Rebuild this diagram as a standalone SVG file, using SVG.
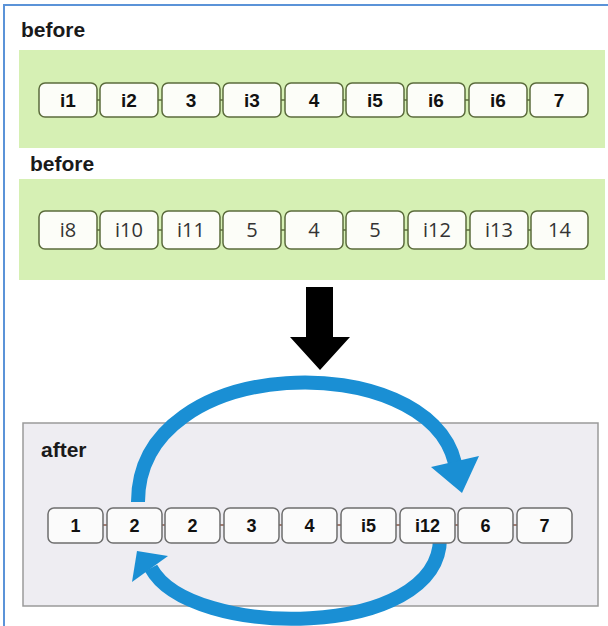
<svg xmlns="http://www.w3.org/2000/svg" width="608" height="626" viewBox="0 0 608 626">
  <defs>
    <style>
      .frame { fill: none; stroke: #5b93d8; stroke-width: 2; }
      .panel { fill: #d6f0b4; }
      .after-panel { fill: #eeedf2; stroke: #9a9a9a; stroke-width: 1.5; }
      .title { font-family: "Liberation Sans", Arial, sans-serif; font-weight: bold; font-size: 21px; fill: #1a1a1a; }
      .b1 { fill: #fcfdf8; stroke: #5b6b3c; stroke-width: 1.5; }
      .b2 { fill: #fcfdf8; stroke: #5b6b3c; stroke-width: 1.5; }
      .b3 { fill: #fbfbfb; stroke: #6e6e6e; stroke-width: 1.5; }
      .t1 { font-family: "Liberation Sans", Arial, sans-serif; font-weight: bold; font-size: 19px; fill: #111; text-anchor: middle; }
      .t2 { font-family: "Open Sans", "Liberation Sans", sans-serif; font-size: 20px; fill: #333; text-anchor: middle; }
      .t3 { font-family: "Liberation Sans", Arial, sans-serif; font-weight: bold; font-size: 18px; fill: #111; text-anchor: middle; }
      .tick1 { stroke: #5b6b3c; stroke-width: 1.5; }
      .tick3 { stroke: #8a5a4a; stroke-width: 1.5; }
      .loop { fill: none; stroke: #1a8fd4; stroke-width: 14; }
      .loop-head { fill: #1a8fd4; }
      .down { fill: #000; }
    </style>
  </defs>

  <rect width="608" height="626" fill="#ffffff"/>
  <!-- outer frame (left and top edges visible) -->
  <path class="frame" d="M4 630 V5 H608"/>

  <!-- panels -->
  <g id="panel-before-1">
    <text class="title" x="21" y="37">before</text>
    <rect class="panel" x="19" y="50" width="586" height="98"/>
  </g>
  <g id="panel-before-2">
    <text class="title" x="30" y="171">before</text>
    <rect class="panel" x="19" y="179" width="586" height="101"/>
  </g>
  <g id="panel-after">
    <rect class="after-panel" x="23" y="423" width="575" height="183"/>
    <text class="title" x="41" y="457">after</text>
  </g>

  <!-- connectors -->
  <g id="connectors">
    <!-- links between neighbouring cells -->
    <g class="tick1">
      <line x1="97" y1="100" x2="100" y2="100"/>
      <line x1="158" y1="100" x2="162" y2="100"/>
      <line x1="220" y1="100" x2="223" y2="100"/>
      <line x1="281" y1="100" x2="285" y2="100"/>
      <line x1="343" y1="100" x2="346" y2="100"/>
      <line x1="404" y1="100" x2="407" y2="100"/>
      <line x1="465" y1="100" x2="469" y2="100"/>
      <line x1="527" y1="100" x2="530" y2="100"/>

      <line x1="97" y1="230" x2="100" y2="230"/>
      <line x1="158" y1="230" x2="162" y2="230"/>
      <line x1="220" y1="230" x2="223" y2="230"/>
      <line x1="281" y1="230" x2="285" y2="230"/>
      <line x1="343" y1="230" x2="346" y2="230"/>
      <line x1="404" y1="230" x2="408" y2="230"/>
      <line x1="466" y1="230" x2="470" y2="230"/>
      <line x1="528" y1="230" x2="531" y2="230"/>
    </g>
    <g class="tick3">
      <line x1="103" y1="525" x2="107" y2="525"/>
      <line x1="162" y1="525" x2="165" y2="525"/>
      <line x1="220" y1="525" x2="224" y2="525"/>
      <line x1="279" y1="525" x2="282" y2="525"/>
      <line x1="337" y1="525" x2="341" y2="525"/>
      <line x1="396" y1="525" x2="400" y2="525"/>
      <line x1="455" y1="525" x2="458" y2="525"/>
      <line x1="513" y1="525" x2="517" y2="525"/>
    </g>

    <!-- transition arrow -->
    <polygon class="down" points="306,287 333,287 333,337 350,337 320,370 290,337 306,337"/>

    <!-- upper loop: from cell 2 over the row into cell 6 -->
    <path class="loop" d="M138 502 C138 352 428 348 455 463"/>
    <polygon class="loop-head" points="431,467 479,456 462,493"/>

    <!-- lower loop: from cell i12 under the row back to cell 2 -->
    <path class="loop" d="M440 538 C440 640 190 640 151 568"/>
    <polygon class="loop-head" points="137,551 168,556 132,582"/>
  </g>

  <!-- row 1 -->
  <g id="n-i1"><rect class="b1" x="39" y="83" width="58" height="34" rx="6"/><text class="t1" x="68" y="107">i1</text></g>
  <g id="n-i2"><rect class="b1" x="100" y="83" width="58" height="34" rx="6"/><text class="t1" x="129" y="107">i2</text></g>
  <g id="n-3a"><rect class="b1" x="162" y="83" width="58" height="34" rx="6"/><text class="t1" x="191" y="107">3</text></g>
  <g id="n-i3"><rect class="b1" x="223" y="83" width="58" height="34" rx="6"/><text class="t1" x="252" y="107">i3</text></g>
  <g id="n-4a"><rect class="b1" x="285" y="83" width="58" height="34" rx="6"/><text class="t1" x="314" y="107">4</text></g>
  <g id="n-i5a"><rect class="b1" x="346" y="83" width="58" height="34" rx="6"/><text class="t1" x="375" y="107">i5</text></g>
  <g id="n-i6a"><rect class="b1" x="407" y="83" width="58" height="34" rx="6"/><text class="t1" x="436" y="107">i6</text></g>
  <g id="n-i6b"><rect class="b1" x="469" y="83" width="58" height="34" rx="6"/><text class="t1" x="498" y="107">i6</text></g>
  <g id="n-7a"><rect class="b1" x="530" y="83" width="58" height="34" rx="6"/><text class="t1" x="559" y="107">7</text></g>

  <!-- row 2 -->
  <g id="n-i8"><rect class="b2" x="39" y="211" width="58" height="38" rx="6"/><text class="t2" x="68" y="237">i8</text></g>
  <g id="n-i10"><rect class="b2" x="100" y="211" width="58" height="38" rx="6"/><text class="t2" x="129" y="237">i10</text></g>
  <g id="n-i11"><rect class="b2" x="162" y="211" width="58" height="38" rx="6"/><text class="t2" x="191" y="237">i11</text></g>
  <g id="n-5a"><rect class="b2" x="223" y="211" width="58" height="38" rx="6"/><text class="t2" x="252" y="237">5</text></g>
  <g id="n-4b"><rect class="b2" x="285" y="211" width="58" height="38" rx="6"/><text class="t2" x="314" y="237">4</text></g>
  <g id="n-5b"><rect class="b2" x="346" y="211" width="58" height="38" rx="6"/><text class="t2" x="375" y="237">5</text></g>
  <g id="n-i12a"><rect class="b2" x="408" y="211" width="58" height="38" rx="6"/><text class="t2" x="437" y="237">i12</text></g>
  <g id="n-i13"><rect class="b2" x="470" y="211" width="58" height="38" rx="6"/><text class="t2" x="499" y="237">i13</text></g>
  <g id="n-14"><rect class="b2" x="531" y="211" width="57" height="38" rx="6"/><text class="t2" x="559.5" y="237">14</text></g>

  <!-- row 3 -->
  <g id="n-1"><rect class="b3" x="48" y="508" width="55" height="35" rx="6"/><text class="t3" x="75.5" y="532">1</text></g>
  <g id="n-2a"><rect class="b3" x="107" y="508" width="55" height="35" rx="6"/><text class="t3" x="134.5" y="532">2</text></g>
  <g id="n-2b"><rect class="b3" x="165" y="508" width="55" height="35" rx="6"/><text class="t3" x="192.5" y="532">2</text></g>
  <g id="n-3b"><rect class="b3" x="224" y="508" width="55" height="35" rx="6"/><text class="t3" x="251.5" y="532">3</text></g>
  <g id="n-4c"><rect class="b3" x="282" y="508" width="55" height="35" rx="6"/><text class="t3" x="309.5" y="532">4</text></g>
  <g id="n-i5b"><rect class="b3" x="341" y="508" width="55" height="35" rx="6"/><text class="t3" x="368.5" y="532">i5</text></g>
  <g id="n-i12b"><rect class="b3" x="400" y="508" width="55" height="35" rx="6"/><text class="t3" x="427.5" y="532">i12</text></g>
  <g id="n-6"><rect class="b3" x="458" y="508" width="55" height="35" rx="6"/><text class="t3" x="485.5" y="532">6</text></g>
  <g id="n-7b"><rect class="b3" x="517" y="508" width="55" height="35" rx="6"/><text class="t3" x="544.5" y="532">7</text></g>
</svg>
